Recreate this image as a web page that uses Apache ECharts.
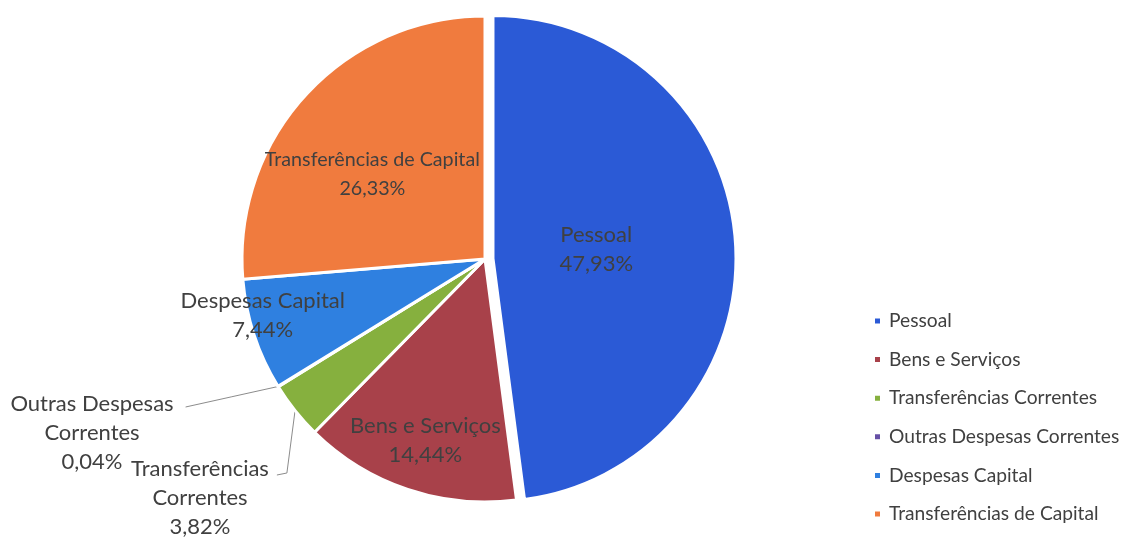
<!DOCTYPE html>
<html>
<head>
<meta charset="utf-8">
<script src="https://cdn.jsdelivr.net/npm/echarts@6/dist/echarts.min.js"></script>
<style>html,body{margin:0;padding:0;background:#fff}#c{width:1122px;height:537px}</style>
</head>
<body>
<div id="c"></div>
<script>
const categories = ['Pessoal', 'Bens e Serviços', 'Transferências Correntes', 'Outras Despesas Correntes', 'Despesas Capital', 'Transferências de Capital'];
const labelTexts = ['Pessoal', 'Bens e Serviços', 'Transferências\nCorrentes', 'Outras Despesas\nCorrentes', 'Despesas Capital', 'Transferências de Capital'];
const values = [47.93, 14.44, 3.82, 0.04, 7.44, 26.33];
const valueLabels = ['47,93%', '14,44%', '3,82%', '0,04%', '7,44%', '26,33%'];
const colors = ['#2b5ad6', '#a8414a', '#86b03e', '#6650a6', '#2f80e0', '#f07b3e'];
const insideFlags = [true, true, false, false, true, true];
const labelSizes = [22, 22, 22, 22, 22, 19.7];
// inside labels: nudge (dx, dy) from the default position; outside labels: offset of label centre from pie centre
const labelShift = [[-21, -1], [-20, 63], [-285, 239], [-393, 174], [-104, 18], [-21, -1]];

const CX = 485, CY = 259, LH = 29;
const chart = echarts.init(document.getElementById('c'));
const font = 'Lato, "Open Sans", sans-serif';
const data = categories.map((c, i) => ({
  name: c,
  value: values[i],
  selected: i === 0,
  itemStyle: { color: colors[i] },
  label: {
    position: insideFlags[i] ? 'inside' : 'outside',
    formatter: labelTexts[i] + '\n' + valueLabels[i],
    fontSize: labelSizes[i],
    align: 'center'
  },
  labelLine: { show: !insideFlags[i] }
}));

chart.setOption({
  backgroundColor: '#ffffff',
  animation: false,
  legend: {
    orient: 'vertical',
    left: 868,
    top: 306,
    itemWidth: 7,
    itemHeight: 7,
    itemGap: 18.6,
    icon: 'rect',
    data: categories,
    textStyle: { fontFamily: font, fontSize: 19.2, lineHeight: 20, color: '#404040', padding: [0, 0, 0, 3] }
  },
  series: [{
    type: 'pie',
    center: [CX, CY],
    radius: 243,
    startAngle: 90,
    clockwise: true,
    selectedMode: 'single',
    selectedOffset: 8,
    avoidLabelOverlap: false,
    itemStyle: { borderColor: '#ffffff', borderWidth: 3 },
    label: {
      fontFamily: font,
      fontSize: 22,
      lineHeight: LH,
      color: '#404040'
    },
    labelLine: {
      length: 10,
      length2: 10,
      lineStyle: { color: '#8c8c8c', width: 1 }
    },
    labelLayout: function (p) {
      const i = p.dataIndex;
      const s = labelShift[i];
      if (insideFlags[i]) return { dx: s[0], dy: s[1] };
      const x = CX + s[0], y = CY + s[1];
      const w = p.labelRect.width;
      const right = x + w / 2;
      const firstY = y - LH;
      const start = (p.labelLinePoints && p.labelLinePoints[0]) ? p.labelLinePoints[0] : [right + 20, firstY];
      let end, mid;
      if (i === 3) {
        end = [right + 12, firstY + 3];
        mid = [(start[0] + end[0]) / 2, (start[1] + end[1]) / 2];
      } else {
        end = [right + 8, firstY + 6];
        mid = [right + 18, firstY + 4];
      }
      return { x: x, y: y, align: 'center', verticalAlign: 'middle', labelLinePoints: [start, mid, end] };
    },
    emphasis: { disabled: true },
    data: data
  }]
});
</script>
</body>
</html>
